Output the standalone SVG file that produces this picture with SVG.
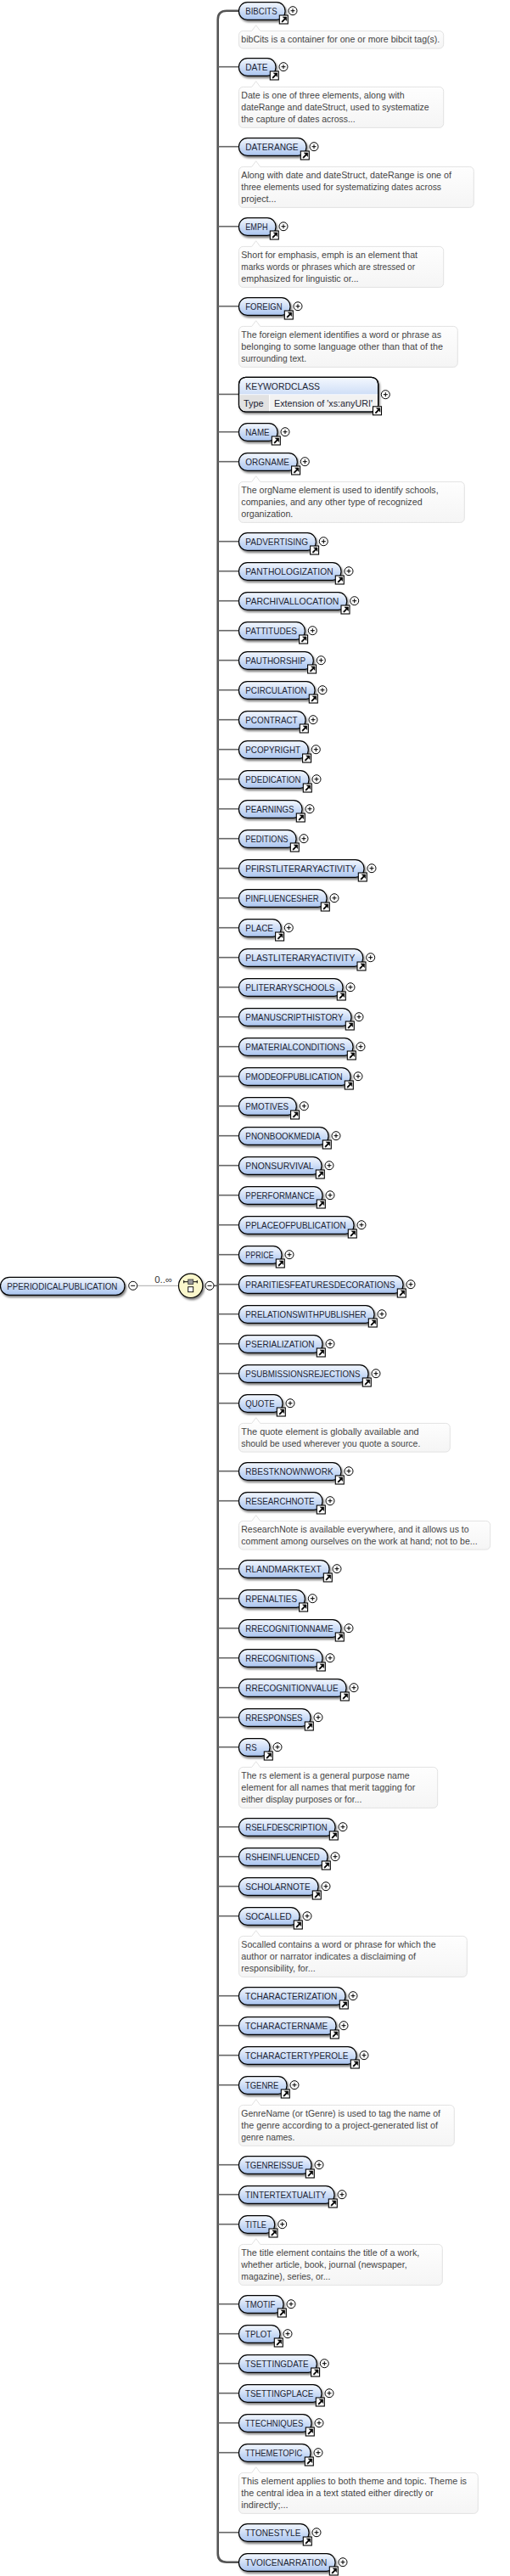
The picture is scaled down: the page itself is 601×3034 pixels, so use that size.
<svg xmlns="http://www.w3.org/2000/svg" width="601" height="3034" viewBox="0 0 601 3034">
<style>
text{font-family:"Liberation Sans",Arial,sans-serif}
.p{fill:url(#gp);stroke:#000;stroke-width:1.2;filter:url(#sh)}
.t{font-size:11px;fill:#1c2433}
.n{fill:url(#gn);stroke:#e2e2e2;stroke-width:1}
.d{font-size:10.5px;fill:#444}
.b{fill:none;stroke:#666;stroke-width:1.6}
</style>
<defs>
<linearGradient id="gp" x1="0" y1="0" x2="0" y2="1"><stop offset="0" stop-color="#f4f8fe"/><stop offset="1" stop-color="#a9c4ef"/></linearGradient>
<linearGradient id="gn" x1="0" y1="0" x2="0" y2="1"><stop offset="0" stop-color="#fff"/><stop offset="1" stop-color="#f5f5f5"/></linearGradient>
<filter id="sh" x="-10%" y="-20%" width="120%" height="160%"><feDropShadow dx="1.5" dy="2.2" stdDeviation="0.9" flood-color="#000" flood-opacity="0.5"/></filter>
<g id="plus"><circle r="5" fill="#fff" stroke="#000" stroke-width="1"/><path d="M-2.5 0H2.5M0-2.5V2.5" stroke="#000" stroke-width="1" fill="none"/></g>
<g id="minus"><circle r="5" fill="#fff" stroke="#000" stroke-width="1"/><path d="M-2.5 0H2.5" stroke="#000" stroke-width="1" fill="none"/></g>
<g id="lnk"><rect x="0" y="5.3" width="10" height="10" fill="#fff" stroke="#000" stroke-width="1.1"/><path d="M2.5 12.6L6 9.1L4 7.3H8.4V11.7L6.9 10L3.6 13.5Z" fill="#000" stroke="#000" stroke-width="0.6"/></g>
</defs>
<rect width="601" height="3034" fill="#fff"/>
<g id="connectors">
<path d="M162 1514.3H210.5" fill="none" stroke="#aaa" stroke-width="1"/>
<path d="M252 1514.3H257" fill="none" stroke="#555" stroke-width="1.6"/>
<path d="M282 12.7H267Q256.7 12.7 256.7 23V3007.5Q256.7 3017.7 267 3017.7H282" fill="none" stroke="#555" stroke-width="2.6"/>
<path class="b" d="M257 78.7H282"/><path class="b" d="M257 172.7H282"/><path class="b" d="M257 266.7H282"/><path class="b" d="M257 360.7H282"/><path class="b" d="M257 464.4H282"/><path class="b" d="M257 508.7H282"/><path class="b" d="M257 543.7H282"/><path class="b" d="M257 637.7H282"/><path class="b" d="M257 672.7H282"/><path class="b" d="M257 707.7H282"/><path class="b" d="M257 742.7H282"/><path class="b" d="M257 777.7H282"/><path class="b" d="M257 812.7H282"/><path class="b" d="M257 847.7H282"/><path class="b" d="M257 882.7H282"/><path class="b" d="M257 917.7H282"/><path class="b" d="M257 952.7H282"/><path class="b" d="M257 987.7H282"/><path class="b" d="M257 1022.7H282"/><path class="b" d="M257 1057.7H282"/><path class="b" d="M257 1092.7H282"/><path class="b" d="M257 1127.7H282"/><path class="b" d="M257 1162.7H282"/><path class="b" d="M257 1197.7H282"/><path class="b" d="M257 1232.7H282"/><path class="b" d="M257 1267.7H282"/><path class="b" d="M257 1302.7H282"/><path class="b" d="M257 1337.7H282"/><path class="b" d="M257 1372.7H282"/><path class="b" d="M257 1407.7H282"/><path class="b" d="M257 1442.7H282"/><path class="b" d="M257 1477.7H282"/><path class="b" d="M257 1512.7H282"/><path class="b" d="M257 1547.7H282"/><path class="b" d="M257 1582.7H282"/><path class="b" d="M257 1617.7H282"/><path class="b" d="M257 1652.7H282"/><path class="b" d="M257 1732.7H282"/><path class="b" d="M257 1767.7H282"/><path class="b" d="M257 1847.7H282"/><path class="b" d="M257 1882.7H282"/><path class="b" d="M257 1917.7H282"/><path class="b" d="M257 1952.7H282"/><path class="b" d="M257 1987.7H282"/><path class="b" d="M257 2022.7H282"/><path class="b" d="M257 2057.7H282"/><path class="b" d="M257 2151.7H282"/><path class="b" d="M257 2186.7H282"/><path class="b" d="M257 2221.7H282"/><path class="b" d="M257 2256.7H282"/><path class="b" d="M257 2350.7H282"/><path class="b" d="M257 2385.7H282"/><path class="b" d="M257 2420.7H282"/><path class="b" d="M257 2455.7H282"/><path class="b" d="M257 2549.7H282"/><path class="b" d="M257 2584.7H282"/><path class="b" d="M257 2619.7H282"/><path class="b" d="M257 2713.7H282"/><path class="b" d="M257 2748.7H282"/><path class="b" d="M257 2783.7H282"/><path class="b" d="M257 2818.7H282"/><path class="b" d="M257 2853.7H282"/><path class="b" d="M257 2888.7H282"/><path class="b" d="M257 2982.7H282"/>
</g>
<g id="root">
<rect class="p" x="0.5" y="1504.3" width="146.5" height="21" rx="10.5"/>
<text class="t" x="8.3" y="1519" textLength="130" lengthAdjust="spacingAndGlyphs">PPERIODICALPUBLICATION</text>
<use href="#minus" x="156.7" y="1514.3"/>
<text x="182.3" y="1511" font-size="11" fill="#333" textLength="20.7" lengthAdjust="spacingAndGlyphs">0..∞</text>
</g>
<g id="sequence">
<circle cx="224.7" cy="1514.3" r="14.2" fill="#fbf8cc" stroke="#000" stroke-width="1.2" filter="url(#sh)"/>
<path d="M216.7 1509.7H232.3M216.7 1508V1511.4M232.3 1508V1511.4" fill="none" stroke="#000" stroke-width="1"/>
<rect x="221.7" y="1507" width="6" height="5.6" fill="#999" stroke="#333" stroke-width="0.8"/>
<rect x="221.7" y="1515.7" width="6" height="6" fill="#fff" stroke="#000" stroke-width="0.9"/>
<use href="#minus" x="247" y="1514.3"/>
</g>
<g id="BIBCITS" transform="translate(0,12.7)"><rect class="p" x="281.5" y="-10" width="54.5" height="20.7" rx="10"/><text class="t" x="289.3" y="4" textLength="37.3" lengthAdjust="spacingAndGlyphs">BIBCITS</text><use href="#lnk" x="329.3"/><use href="#plus" x="345"/>
<path class="n" d="M286.5 23.7H296.7L301.7 17L306.7 23.7H517.7a5 5 0 0 1 5 5V39.4a5 5 0 0 1-5 5H286.5a5 5 0 0 1-5-5V28.7a5 5 0 0 1 5-5Z"/><text class="d" x="284.3" y="37" textLength="234" lengthAdjust="spacingAndGlyphs">bibCits is a container for one or more bibcit tag(s).</text></g>
<g id="DATE" transform="translate(0,78.7)"><rect class="p" x="281.5" y="-10" width="43.5" height="20.7" rx="10"/><text class="t" x="289.3" y="4" textLength="26.3" lengthAdjust="spacingAndGlyphs">DATE</text><use href="#lnk" x="318.3"/><use href="#plus" x="334"/>
<path class="n" d="M286.5 23.7H296.7L301.7 17L306.7 23.7H517.7a5 5 0 0 1 5 5V66.7a5 5 0 0 1-5 5H286.5a5 5 0 0 1-5-5V28.7a5 5 0 0 1 5-5Z"/><text class="d" x="284.3" y="37" textLength="192.3" lengthAdjust="spacingAndGlyphs">Date is one of three elements, along with</text><text class="d" x="284.3" y="51" textLength="221.3" lengthAdjust="spacingAndGlyphs">dateRange and dateStruct, used to systematize</text><text class="d" x="284.3" y="65" textLength="134.3" lengthAdjust="spacingAndGlyphs">the capture of dates across...</text></g>
<g id="DATERANGE" transform="translate(0,172.7)"><rect class="p" x="281.5" y="-10" width="79.5" height="20.7" rx="10"/><text class="t" x="289.3" y="4" textLength="62.3" lengthAdjust="spacingAndGlyphs">DATERANGE</text><use href="#lnk" x="354.3"/><use href="#plus" x="370"/>
<path class="n" d="M286.5 23.7H296.7L301.7 17L306.7 23.7H553.3a5 5 0 0 1 5 5V66.7a5 5 0 0 1-5 5H286.5a5 5 0 0 1-5-5V28.7a5 5 0 0 1 5-5Z"/><text class="d" x="284.3" y="37" textLength="247.7" lengthAdjust="spacingAndGlyphs">Along with date and dateStruct, dateRange is one of</text><text class="d" x="284.3" y="51" textLength="235.7" lengthAdjust="spacingAndGlyphs">three elements used for systematizing dates across</text><text class="d" x="284.3" y="65" textLength="41.3" lengthAdjust="spacingAndGlyphs">project...</text></g>
<g id="EMPH" transform="translate(0,266.7)"><rect class="p" x="281.5" y="-10" width="43.5" height="20.7" rx="10"/><text class="t" x="289.3" y="4" textLength="26.3" lengthAdjust="spacingAndGlyphs">EMPH</text><use href="#lnk" x="318.3"/><use href="#plus" x="334"/>
<path class="n" d="M286.5 23.7H296.7L301.7 17L306.7 23.7H517.7a5 5 0 0 1 5 5V66.7a5 5 0 0 1-5 5H286.5a5 5 0 0 1-5-5V28.7a5 5 0 0 1 5-5Z"/><text class="d" x="284.3" y="37" textLength="207.7" lengthAdjust="spacingAndGlyphs">Short for emphasis, emph is an element that</text><text class="d" x="284.3" y="51" textLength="204.7" lengthAdjust="spacingAndGlyphs">marks words or phrases which are stressed or</text><text class="d" x="284.3" y="65" textLength="138.3" lengthAdjust="spacingAndGlyphs">emphasized for linguistic or...</text></g>
<g id="FOREIGN" transform="translate(0,360.7)"><rect class="p" x="281.5" y="-10" width="60.5" height="20.7" rx="10"/><text class="t" x="289.3" y="4" textLength="43.3" lengthAdjust="spacingAndGlyphs">FOREIGN</text><use href="#lnk" x="335.3"/><use href="#plus" x="351"/>
<path class="n" d="M286.5 23.7H296.7L301.7 17L306.7 23.7H534.3a5 5 0 0 1 5 5V66.7a5 5 0 0 1-5 5H286.5a5 5 0 0 1-5-5V28.7a5 5 0 0 1 5-5Z"/><text class="d" x="284.3" y="37" textLength="235.7" lengthAdjust="spacingAndGlyphs">The foreign element identifies a word or phrase as</text><text class="d" x="284.3" y="51" textLength="237.7" lengthAdjust="spacingAndGlyphs">belonging to some language other than that of the</text><text class="d" x="284.3" y="65" textLength="76.7" lengthAdjust="spacingAndGlyphs">surrounding text.</text></g>
<g id="KEYWORDCLASS">
<rect class="p" x="281.5" y="444.3" width="164.2" height="40.7" rx="8"/>
<path d="M282.2 465H445V472H445V477a7.3 7.3 0 0 1-7.3 7.3H289.5a7.3 7.3 0 0 1-7.3-7.3Z" fill="#f2f2f2"/>
<path d="M282.2 465H317V484.3H289.5a7.3 7.3 0 0 1-7.3-7.3Z" fill="#e2e2e2"/>
<path d="M317.7 465V484.5" stroke="#fff" stroke-width="1" fill="none"/>
<path d="M282 464.7H445.3" stroke="#fff" stroke-width="0.8" fill="none"/>
<rect x="281.5" y="444.3" width="164.2" height="40.7" rx="8" fill="none" stroke="#000" stroke-width="1.2"/>
<text class="t" x="289.3" y="458.7" textLength="87.7" lengthAdjust="spacingAndGlyphs">KEYWORDCLASS</text>
<text class="t" x="287" y="479" textLength="23.7" lengthAdjust="spacingAndGlyphs">Type</text>
<text class="t" x="323" y="479" textLength="116" lengthAdjust="spacingAndGlyphs">Extension of 'xs:anyURI'</text>
<use href="#lnk" x="439.5" y="473.5"/><use href="#plus" x="454.3" y="464.7"/></g>
<g id="NAME" transform="translate(0,508.7)"><rect class="p" x="281.5" y="-10" width="45.5" height="20.7" rx="10"/><text class="t" x="289.3" y="4" textLength="28.3" lengthAdjust="spacingAndGlyphs">NAME</text><use href="#lnk" x="320.3"/><use href="#plus" x="336"/></g>
<g id="ORGNAME" transform="translate(0,543.7)"><rect class="p" x="281.5" y="-10" width="68.8" height="20.7" rx="10"/><text class="t" x="289.3" y="4" textLength="51.7" lengthAdjust="spacingAndGlyphs">ORGNAME</text><use href="#lnk" x="343.6"/><use href="#plus" x="359.3"/>
<path class="n" d="M286.5 23.7H296.7L301.7 17L306.7 23.7H542.3a5 5 0 0 1 5 5V66.7a5 5 0 0 1-5 5H286.5a5 5 0 0 1-5-5V28.7a5 5 0 0 1 5-5Z"/><text class="d" x="284.3" y="37" textLength="232.3" lengthAdjust="spacingAndGlyphs">The orgName element is used to identify schools,</text><text class="d" x="284.3" y="51" textLength="213.3" lengthAdjust="spacingAndGlyphs">companies, and any other type of recognized</text><text class="d" x="284.3" y="65" textLength="61" lengthAdjust="spacingAndGlyphs">organization.</text></g>
<g id="PADVERTISING" transform="translate(0,637.7)"><rect class="p" x="281.5" y="-10" width="90.8" height="20.7" rx="10"/><text class="t" x="289.3" y="4" textLength="73.7" lengthAdjust="spacingAndGlyphs">PADVERTISING</text><use href="#lnk" x="365.6"/><use href="#plus" x="381.3"/></g>
<g id="PANTHOLOGIZATION" transform="translate(0,672.7)"><rect class="p" x="281.5" y="-10" width="120.5" height="20.7" rx="10"/><text class="t" x="289.3" y="4" textLength="103.3" lengthAdjust="spacingAndGlyphs">PANTHOLOGIZATION</text><use href="#lnk" x="395.3"/><use href="#plus" x="411"/></g>
<g id="PARCHIVALLOCATION" transform="translate(0,707.7)"><rect class="p" x="281.5" y="-10" width="127.2" height="20.7" rx="10"/><text class="t" x="289.3" y="4" textLength="110" lengthAdjust="spacingAndGlyphs">PARCHIVALLOCATION</text><use href="#lnk" x="402"/><use href="#plus" x="417.7"/></g>
<g id="PATTITUDES" transform="translate(0,742.7)"><rect class="p" x="281.5" y="-10" width="77.8" height="20.7" rx="10"/><text class="t" x="289.3" y="4" textLength="60.7" lengthAdjust="spacingAndGlyphs">PATTITUDES</text><use href="#lnk" x="352.6"/><use href="#plus" x="368.3"/></g>
<g id="PAUTHORSHIP" transform="translate(0,777.7)"><rect class="p" x="281.5" y="-10" width="87.8" height="20.7" rx="10"/><text class="t" x="289.3" y="4" textLength="70.7" lengthAdjust="spacingAndGlyphs">PAUTHORSHIP</text><use href="#lnk" x="362.6"/><use href="#plus" x="378.3"/></g>
<g id="PCIRCULATION" transform="translate(0,812.7)"><rect class="p" x="281.5" y="-10" width="89.5" height="20.7" rx="10"/><text class="t" x="289.3" y="4" textLength="72.3" lengthAdjust="spacingAndGlyphs">PCIRCULATION</text><use href="#lnk" x="364.3"/><use href="#plus" x="380"/></g>
<g id="PCONTRACT" transform="translate(0,847.7)"><rect class="p" x="281.5" y="-10" width="78.5" height="20.7" rx="10"/><text class="t" x="289.3" y="4" textLength="61.3" lengthAdjust="spacingAndGlyphs">PCONTRACT</text><use href="#lnk" x="353.3"/><use href="#plus" x="369"/></g>
<g id="PCOPYRIGHT" transform="translate(0,882.7)"><rect class="p" x="281.5" y="-10" width="81.8" height="20.7" rx="10"/><text class="t" x="289.3" y="4" textLength="64.7" lengthAdjust="spacingAndGlyphs">PCOPYRIGHT</text><use href="#lnk" x="356.6"/><use href="#plus" x="372.3"/></g>
<g id="PDEDICATION" transform="translate(0,917.7)"><rect class="p" x="281.5" y="-10" width="82.5" height="20.7" rx="10"/><text class="t" x="289.3" y="4" textLength="65.3" lengthAdjust="spacingAndGlyphs">PDEDICATION</text><use href="#lnk" x="357.3"/><use href="#plus" x="373"/></g>
<g id="PEARNINGS" transform="translate(0,952.7)"><rect class="p" x="281.5" y="-10" width="74.5" height="20.7" rx="10"/><text class="t" x="289.3" y="4" textLength="57.3" lengthAdjust="spacingAndGlyphs">PEARNINGS</text><use href="#lnk" x="349.3"/><use href="#plus" x="365"/></g>
<g id="PEDITIONS" transform="translate(0,987.7)"><rect class="p" x="281.5" y="-10" width="67.5" height="20.7" rx="10"/><text class="t" x="289.3" y="4" textLength="50.3" lengthAdjust="spacingAndGlyphs">PEDITIONS</text><use href="#lnk" x="342.3"/><use href="#plus" x="358"/></g>
<g id="PFIRSTLITERARYACTIVITY" transform="translate(0,1022.7)"><rect class="p" x="281.5" y="-10" width="147.5" height="20.7" rx="10"/><text class="t" x="289.3" y="4" textLength="130.3" lengthAdjust="spacingAndGlyphs">PFIRSTLITERARYACTIVITY</text><use href="#lnk" x="422.3"/><use href="#plus" x="438"/></g>
<g id="PINFLUENCESHER" transform="translate(0,1057.7)"><rect class="p" x="281.5" y="-10" width="103.5" height="20.7" rx="10"/><text class="t" x="289.3" y="4" textLength="86.3" lengthAdjust="spacingAndGlyphs">PINFLUENCESHER</text><use href="#lnk" x="378.3"/><use href="#plus" x="394"/></g>
<g id="PLACE" transform="translate(0,1092.7)"><rect class="p" x="281.5" y="-10" width="49.8" height="20.7" rx="10"/><text class="t" x="289.3" y="4" textLength="32.7" lengthAdjust="spacingAndGlyphs">PLACE</text><use href="#lnk" x="324.6"/><use href="#plus" x="340.3"/></g>
<g id="PLASTLITERARYACTIVITY" transform="translate(0,1127.7)"><rect class="p" x="281.5" y="-10" width="146.2" height="20.7" rx="10"/><text class="t" x="289.3" y="4" textLength="129" lengthAdjust="spacingAndGlyphs">PLASTLITERARYACTIVITY</text><use href="#lnk" x="421"/><use href="#plus" x="436.7"/></g>
<g id="PLITERARYSCHOOLS" transform="translate(0,1162.7)"><rect class="p" x="281.5" y="-10" width="122.5" height="20.7" rx="10"/><text class="t" x="289.3" y="4" textLength="105.3" lengthAdjust="spacingAndGlyphs">PLITERARYSCHOOLS</text><use href="#lnk" x="397.3"/><use href="#plus" x="413"/></g>
<g id="PMANUSCRIPTHISTORY" transform="translate(0,1197.7)"><rect class="p" x="281.5" y="-10" width="132.5" height="20.7" rx="10"/><text class="t" x="289.3" y="4" textLength="115.3" lengthAdjust="spacingAndGlyphs">PMANUSCRIPTHISTORY</text><use href="#lnk" x="407.3"/><use href="#plus" x="423"/></g>
<g id="PMATERIALCONDITIONS" transform="translate(0,1232.7)"><rect class="p" x="281.5" y="-10" width="134.5" height="20.7" rx="10"/><text class="t" x="289.3" y="4" textLength="117.3" lengthAdjust="spacingAndGlyphs">PMATERIALCONDITIONS</text><use href="#lnk" x="409.3"/><use href="#plus" x="425"/></g>
<g id="PMODEOFPUBLICATION" transform="translate(0,1267.7)"><rect class="p" x="281.5" y="-10" width="131.5" height="20.7" rx="10"/><text class="t" x="289.3" y="4" textLength="114.3" lengthAdjust="spacingAndGlyphs">PMODEOFPUBLICATION</text><use href="#lnk" x="406.3"/><use href="#plus" x="422"/></g>
<g id="PMOTIVES" transform="translate(0,1302.7)"><rect class="p" x="281.5" y="-10" width="67.8" height="20.7" rx="10"/><text class="t" x="289.3" y="4" textLength="50.7" lengthAdjust="spacingAndGlyphs">PMOTIVES</text><use href="#lnk" x="342.6"/><use href="#plus" x="358.3"/></g>
<g id="PNONBOOKMEDIA" transform="translate(0,1337.7)"><rect class="p" x="281.5" y="-10" width="105.5" height="20.7" rx="10"/><text class="t" x="289.3" y="4" textLength="88.3" lengthAdjust="spacingAndGlyphs">PNONBOOKMEDIA</text><use href="#lnk" x="380.3"/><use href="#plus" x="396"/></g>
<g id="PNONSURVIVAL" transform="translate(0,1372.7)"><rect class="p" x="281.5" y="-10" width="97.5" height="20.7" rx="10"/><text class="t" x="289.3" y="4" textLength="80.3" lengthAdjust="spacingAndGlyphs">PNONSURVIVAL</text><use href="#lnk" x="372.3"/><use href="#plus" x="388"/></g>
<g id="PPERFORMANCE" transform="translate(0,1407.7)"><rect class="p" x="281.5" y="-10" width="98.5" height="20.7" rx="10"/><text class="t" x="289.3" y="4" textLength="81.3" lengthAdjust="spacingAndGlyphs">PPERFORMANCE</text><use href="#lnk" x="373.3"/><use href="#plus" x="389"/></g>
<g id="PPLACEOFPUBLICATION" transform="translate(0,1442.7)"><rect class="p" x="281.5" y="-10" width="135.5" height="20.7" rx="10"/><text class="t" x="289.3" y="4" textLength="118.3" lengthAdjust="spacingAndGlyphs">PPLACEOFPUBLICATION</text><use href="#lnk" x="410.3"/><use href="#plus" x="426"/></g>
<g id="PPRICE" transform="translate(0,1477.7)"><rect class="p" x="281.5" y="-10" width="50.5" height="20.7" rx="10"/><text class="t" x="289.3" y="4" textLength="33.3" lengthAdjust="spacingAndGlyphs">PPRICE</text><use href="#lnk" x="325.3"/><use href="#plus" x="341"/></g>
<g id="PRARITIESFEATURESDECORATIONS" transform="translate(0,1512.7)"><rect class="p" x="281.5" y="-10" width="193.5" height="20.7" rx="10"/><text class="t" x="289.3" y="4" textLength="176.3" lengthAdjust="spacingAndGlyphs">PRARITIESFEATURESDECORATIONS</text><use href="#lnk" x="468.3"/><use href="#plus" x="484"/></g>
<g id="PRELATIONSWITHPUBLISHER" transform="translate(0,1547.7)"><rect class="p" x="281.5" y="-10" width="159.5" height="20.7" rx="10"/><text class="t" x="289.3" y="4" textLength="142.3" lengthAdjust="spacingAndGlyphs">PRELATIONSWITHPUBLISHER</text><use href="#lnk" x="434.3"/><use href="#plus" x="450"/></g>
<g id="PSERIALIZATION" transform="translate(0,1582.7)"><rect class="p" x="281.5" y="-10" width="98.5" height="20.7" rx="10"/><text class="t" x="289.3" y="4" textLength="81.3" lengthAdjust="spacingAndGlyphs">PSERIALIZATION</text><use href="#lnk" x="373.3"/><use href="#plus" x="389"/></g>
<g id="PSUBMISSIONSREJECTIONS" transform="translate(0,1617.7)"><rect class="p" x="281.5" y="-10" width="152.5" height="20.7" rx="10"/><text class="t" x="289.3" y="4" textLength="135.3" lengthAdjust="spacingAndGlyphs">PSUBMISSIONSREJECTIONS</text><use href="#lnk" x="427.3"/><use href="#plus" x="443"/></g>
<g id="QUOTE" transform="translate(0,1652.7)"><rect class="p" x="281.5" y="-10" width="51.5" height="20.7" rx="10"/><text class="t" x="289.3" y="4" textLength="34.3" lengthAdjust="spacingAndGlyphs">QUOTE</text><use href="#lnk" x="326.3"/><use href="#plus" x="342"/>
<path class="n" d="M286.5 23.7H296.7L301.7 17L306.7 23.7H525.3a5 5 0 0 1 5 5V52.4a5 5 0 0 1-5 5H286.5a5 5 0 0 1-5-5V28.7a5 5 0 0 1 5-5Z"/><text class="d" x="284.3" y="37" textLength="209.3" lengthAdjust="spacingAndGlyphs">The quote element is globally available and</text><text class="d" x="284.3" y="51" textLength="211" lengthAdjust="spacingAndGlyphs">should be used wherever you quote a source.</text></g>
<g id="RBESTKNOWNWORK" transform="translate(0,1732.7)"><rect class="p" x="281.5" y="-10" width="120.5" height="20.7" rx="10"/><text class="t" x="289.3" y="4" textLength="103.3" lengthAdjust="spacingAndGlyphs">RBESTKNOWNWORK</text><use href="#lnk" x="395.3"/><use href="#plus" x="411"/></g>
<g id="RESEARCHNOTE" transform="translate(0,1767.7)"><rect class="p" x="281.5" y="-10" width="98.5" height="20.7" rx="10"/><text class="t" x="289.3" y="4" textLength="81.3" lengthAdjust="spacingAndGlyphs">RESEARCHNOTE</text><use href="#lnk" x="373.3"/><use href="#plus" x="389"/>
<path class="n" d="M286.5 23.7H296.7L301.7 17L306.7 23.7H572.7a5 5 0 0 1 5 5V52.4a5 5 0 0 1-5 5H286.5a5 5 0 0 1-5-5V28.7a5 5 0 0 1 5-5Z"/><text class="d" x="284.3" y="37" textLength="268.3" lengthAdjust="spacingAndGlyphs">ResearchNote is available everywhere, and it allows us to</text><text class="d" x="284.3" y="51" textLength="278.3" lengthAdjust="spacingAndGlyphs">comment among ourselves on the work at hand; not to be...</text></g>
<g id="RLANDMARKTEXT" transform="translate(0,1847.7)"><rect class="p" x="281.5" y="-10" width="106.5" height="20.7" rx="10"/><text class="t" x="289.3" y="4" textLength="89.3" lengthAdjust="spacingAndGlyphs">RLANDMARKTEXT</text><use href="#lnk" x="381.3"/><use href="#plus" x="397"/></g>
<g id="RPENALTIES" transform="translate(0,1882.7)"><rect class="p" x="281.5" y="-10" width="77.8" height="20.7" rx="10"/><text class="t" x="289.3" y="4" textLength="60.7" lengthAdjust="spacingAndGlyphs">RPENALTIES</text><use href="#lnk" x="352.6"/><use href="#plus" x="368.3"/></g>
<g id="RRECOGNITIONNAME" transform="translate(0,1917.7)"><rect class="p" x="281.5" y="-10" width="120.5" height="20.7" rx="10"/><text class="t" x="289.3" y="4" textLength="103.3" lengthAdjust="spacingAndGlyphs">RRECOGNITIONNAME</text><use href="#lnk" x="395.3"/><use href="#plus" x="411"/></g>
<g id="RRECOGNITIONS" transform="translate(0,1952.7)"><rect class="p" x="281.5" y="-10" width="98.5" height="20.7" rx="10"/><text class="t" x="289.3" y="4" textLength="81.3" lengthAdjust="spacingAndGlyphs">RRECOGNITIONS</text><use href="#lnk" x="373.3"/><use href="#plus" x="389"/></g>
<g id="RRECOGNITIONVALUE" transform="translate(0,1987.7)"><rect class="p" x="281.5" y="-10" width="126.5" height="20.7" rx="10"/><text class="t" x="289.3" y="4" textLength="109.3" lengthAdjust="spacingAndGlyphs">RRECOGNITIONVALUE</text><use href="#lnk" x="401.3"/><use href="#plus" x="417"/></g>
<g id="RRESPONSES" transform="translate(0,2022.7)"><rect class="p" x="281.5" y="-10" width="84.5" height="20.7" rx="10"/><text class="t" x="289.3" y="4" textLength="67.3" lengthAdjust="spacingAndGlyphs">RRESPONSES</text><use href="#lnk" x="359.3"/><use href="#plus" x="375"/></g>
<g id="RS" transform="translate(0,2057.7)"><rect class="p" x="281.5" y="-10" width="36.5" height="20.7" rx="10"/><text class="t" x="289.3" y="4" textLength="13.3" lengthAdjust="spacingAndGlyphs">RS</text><use href="#lnk" x="311.3"/><use href="#plus" x="327"/>
<path class="n" d="M286.5 23.7H296.7L301.7 17L306.7 23.7H510.7a5 5 0 0 1 5 5V66.7a5 5 0 0 1-5 5H286.5a5 5 0 0 1-5-5V28.7a5 5 0 0 1 5-5Z"/><text class="d" x="284.3" y="37" textLength="198.3" lengthAdjust="spacingAndGlyphs">The rs element is a general purpose name</text><text class="d" x="284.3" y="51" textLength="205" lengthAdjust="spacingAndGlyphs">element for all names that merit tagging for</text><text class="d" x="284.3" y="65" textLength="142" lengthAdjust="spacingAndGlyphs">either display purposes or for...</text></g>
<g id="RSELFDESCRIPTION" transform="translate(0,2151.7)"><rect class="p" x="281.5" y="-10" width="113.5" height="20.7" rx="10"/><text class="t" x="289.3" y="4" textLength="96.3" lengthAdjust="spacingAndGlyphs">RSELFDESCRIPTION</text><use href="#lnk" x="388.3"/><use href="#plus" x="404"/></g>
<g id="RSHEINFLUENCED" transform="translate(0,2186.7)"><rect class="p" x="281.5" y="-10" width="104.5" height="20.7" rx="10"/><text class="t" x="289.3" y="4" textLength="87.3" lengthAdjust="spacingAndGlyphs">RSHEINFLUENCED</text><use href="#lnk" x="379.3"/><use href="#plus" x="395"/></g>
<g id="SCHOLARNOTE" transform="translate(0,2221.7)"><rect class="p" x="281.5" y="-10" width="93.5" height="20.7" rx="10"/><text class="t" x="289.3" y="4" textLength="76.3" lengthAdjust="spacingAndGlyphs">SCHOLARNOTE</text><use href="#lnk" x="368.3"/><use href="#plus" x="384"/></g>
<g id="SOCALLED" transform="translate(0,2256.7)"><rect class="p" x="281.5" y="-10" width="71.5" height="20.7" rx="10"/><text class="t" x="289.3" y="4" textLength="54.3" lengthAdjust="spacingAndGlyphs">SOCALLED</text><use href="#lnk" x="346.3"/><use href="#plus" x="362"/>
<path class="n" d="M286.5 23.7H296.7L301.7 17L306.7 23.7H545.3a5 5 0 0 1 5 5V66.7a5 5 0 0 1-5 5H286.5a5 5 0 0 1-5-5V28.7a5 5 0 0 1 5-5Z"/><text class="d" x="284.3" y="37" textLength="229.3" lengthAdjust="spacingAndGlyphs">Socalled contains a word or phrase for which the</text><text class="d" x="284.3" y="51" textLength="205.7" lengthAdjust="spacingAndGlyphs">author or narrator indicates a disclaiming of</text><text class="d" x="284.3" y="65" textLength="87.3" lengthAdjust="spacingAndGlyphs">responsibility, for...</text></g>
<g id="TCHARACTERIZATION" transform="translate(0,2350.7)"><rect class="p" x="281.5" y="-10" width="125.5" height="20.7" rx="10"/><text class="t" x="289" y="4" textLength="108.3" lengthAdjust="spacingAndGlyphs">TCHARACTERIZATION</text><use href="#lnk" x="400.3"/><use href="#plus" x="416"/></g>
<g id="TCHARACTERNAME" transform="translate(0,2385.7)"><rect class="p" x="281.5" y="-10" width="114.5" height="20.7" rx="10"/><text class="t" x="289" y="4" textLength="97.3" lengthAdjust="spacingAndGlyphs">TCHARACTERNAME</text><use href="#lnk" x="389.3"/><use href="#plus" x="405"/></g>
<g id="TCHARACTERTYPEROLE" transform="translate(0,2420.7)"><rect class="p" x="281.5" y="-10" width="138.5" height="20.7" rx="10"/><text class="t" x="289" y="4" textLength="121.3" lengthAdjust="spacingAndGlyphs">TCHARACTERTYPEROLE</text><use href="#lnk" x="413.3"/><use href="#plus" x="429"/></g>
<g id="TGENRE" transform="translate(0,2455.7)"><rect class="p" x="281.5" y="-10" width="56.5" height="20.7" rx="10"/><text class="t" x="289" y="4" textLength="39.3" lengthAdjust="spacingAndGlyphs">TGENRE</text><use href="#lnk" x="331.3"/><use href="#plus" x="347"/>
<path class="n" d="M286.5 23.7H296.7L301.7 17L306.7 23.7H530.3a5 5 0 0 1 5 5V66.7a5 5 0 0 1-5 5H286.5a5 5 0 0 1-5-5V28.7a5 5 0 0 1 5-5Z"/><text class="d" x="284.3" y="37" textLength="234.7" lengthAdjust="spacingAndGlyphs">GenreName (or tGenre) is used to tag the name of</text><text class="d" x="284.3" y="51" textLength="231.7" lengthAdjust="spacingAndGlyphs">the genre according to a project-generated list of</text><text class="d" x="284.3" y="65" textLength="63" lengthAdjust="spacingAndGlyphs">genre names.</text></g>
<g id="TGENREISSUE" transform="translate(0,2549.7)"><rect class="p" x="281.5" y="-10" width="85.5" height="20.7" rx="10"/><text class="t" x="289" y="4" textLength="68.3" lengthAdjust="spacingAndGlyphs">TGENREISSUE</text><use href="#lnk" x="360.3"/><use href="#plus" x="376"/></g>
<g id="TINTERTEXTUALITY" transform="translate(0,2584.7)"><rect class="p" x="281.5" y="-10" width="112.5" height="20.7" rx="10"/><text class="t" x="289" y="4" textLength="95.3" lengthAdjust="spacingAndGlyphs">TINTERTEXTUALITY</text><use href="#lnk" x="387.3"/><use href="#plus" x="403"/></g>
<g id="TITLE" transform="translate(0,2619.7)"><rect class="p" x="281.5" y="-10" width="42.2" height="20.7" rx="10"/><text class="t" x="289" y="4" textLength="25" lengthAdjust="spacingAndGlyphs">TITLE</text><use href="#lnk" x="317"/><use href="#plus" x="332.7"/>
<path class="n" d="M286.5 23.7H296.7L301.7 17L306.7 23.7H516.3a5 5 0 0 1 5 5V66.7a5 5 0 0 1-5 5H286.5a5 5 0 0 1-5-5V28.7a5 5 0 0 1 5-5Z"/><text class="d" x="284.3" y="37" textLength="210" lengthAdjust="spacingAndGlyphs">The title element contains the title of a work,</text><text class="d" x="284.3" y="51" textLength="195.3" lengthAdjust="spacingAndGlyphs">whether article, book, journal (newspaper,</text><text class="d" x="284.3" y="65" textLength="105" lengthAdjust="spacingAndGlyphs">magazine), series, or...</text></g>
<g id="TMOTIF" transform="translate(0,2713.7)"><rect class="p" x="281.5" y="-10" width="52.5" height="20.7" rx="10"/><text class="t" x="289" y="4" textLength="35.3" lengthAdjust="spacingAndGlyphs">TMOTIF</text><use href="#lnk" x="327.3"/><use href="#plus" x="343"/></g>
<g id="TPLOT" transform="translate(0,2748.7)"><rect class="p" x="281.5" y="-10" width="48.5" height="20.7" rx="10"/><text class="t" x="289" y="4" textLength="31.3" lengthAdjust="spacingAndGlyphs">TPLOT</text><use href="#lnk" x="323.3"/><use href="#plus" x="339"/></g>
<g id="TSETTINGDATE" transform="translate(0,2783.7)"><rect class="p" x="281.5" y="-10" width="91.8" height="20.7" rx="10"/><text class="t" x="289" y="4" textLength="74.7" lengthAdjust="spacingAndGlyphs">TSETTINGDATE</text><use href="#lnk" x="366.6"/><use href="#plus" x="382.3"/></g>
<g id="TSETTINGPLACE" transform="translate(0,2818.7)"><rect class="p" x="281.5" y="-10" width="97.5" height="20.7" rx="10"/><text class="t" x="289" y="4" textLength="80.3" lengthAdjust="spacingAndGlyphs">TSETTINGPLACE</text><use href="#lnk" x="372.3"/><use href="#plus" x="388"/></g>
<g id="TTECHNIQUES" transform="translate(0,2853.7)"><rect class="p" x="281.5" y="-10" width="85.5" height="20.7" rx="10"/><text class="t" x="289" y="4" textLength="68.3" lengthAdjust="spacingAndGlyphs">TTECHNIQUES</text><use href="#lnk" x="360.3"/><use href="#plus" x="376"/></g>
<g id="TTHEMETOPIC" transform="translate(0,2888.7)"><rect class="p" x="281.5" y="-10" width="84.5" height="20.7" rx="10"/><text class="t" x="289" y="4" textLength="67.3" lengthAdjust="spacingAndGlyphs">TTHEMETOPIC</text><use href="#lnk" x="359.3"/><use href="#plus" x="375"/>
<path class="n" d="M286.5 23.7H296.7L301.7 17L306.7 23.7H558.3a5 5 0 0 1 5 5V66.7a5 5 0 0 1-5 5H286.5a5 5 0 0 1-5-5V28.7a5 5 0 0 1 5-5Z"/><text class="d" x="284.3" y="37" textLength="265.7" lengthAdjust="spacingAndGlyphs">This element applies to both theme and topic. Theme is</text><text class="d" x="284.3" y="51" textLength="226.3" lengthAdjust="spacingAndGlyphs">the central idea in a text stated either directly or</text><text class="d" x="284.3" y="65" textLength="55.3" lengthAdjust="spacingAndGlyphs">indirectly;...</text></g>
<g id="TTONESTYLE" transform="translate(0,2982.7)"><rect class="p" x="281.5" y="-10" width="82.5" height="20.7" rx="10"/><text class="t" x="289" y="4" textLength="65.3" lengthAdjust="spacingAndGlyphs">TTONESTYLE</text><use href="#lnk" x="357.3"/><use href="#plus" x="373"/></g>
<g id="TVOICENARRATION" transform="translate(0,3017.7)"><rect class="p" x="281.5" y="-10" width="113.5" height="20.7" rx="10"/><text class="t" x="289" y="4" textLength="96.3" lengthAdjust="spacingAndGlyphs">TVOICENARRATION</text><use href="#lnk" x="388.3"/><use href="#plus" x="404"/></g>
</svg>
